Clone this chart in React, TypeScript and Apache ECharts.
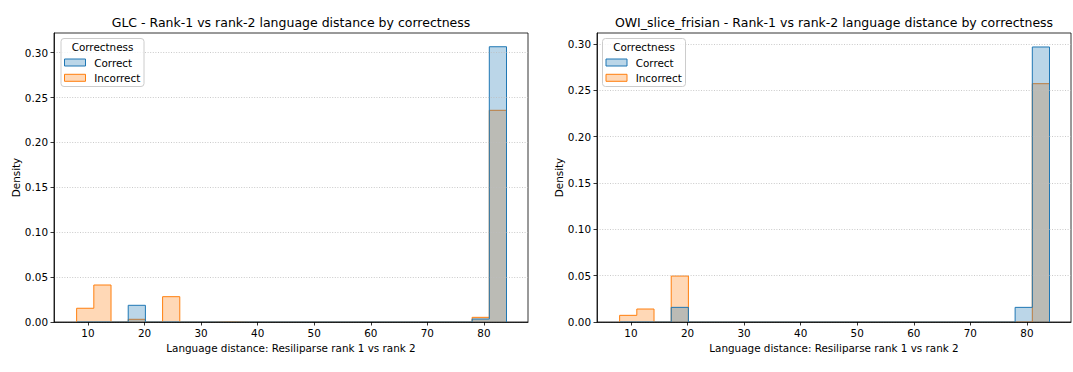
import React, { useEffect, useRef } from "react";
import * as echarts from "echarts";

// Histogram bin edges (25 bins) on "Language distance"
const binEdges = [
  8, 11.04, 14.08, 17.12, 20.16, 23.2, 26.24, 29.28, 32.32, 35.36, 38.4, 41.44, 44.48,
  47.52, 50.56, 53.6, 56.64, 59.68, 62.72, 65.76, 68.8, 71.84, 74.88, 77.92, 80.96, 84,
];
const xTickValues = [10, 20, 30, 40, 50, 60, 70, 80];
const yTickValues = [0, 0.05, 0.1, 0.15, 0.2, 0.25, 0.3];

// Density per bin, GLC panel
const glcCorrect = [
  0, 0, 0, 0.0186, 0, 0, 0, 0, 0, 0, 0, 0, 0, 0, 0, 0, 0, 0, 0, 0, 0, 0, 0, 0.0033, 0.3066,
];
const glcIncorrect = [
  0.0153, 0.0412, 0, 0.003, 0, 0.0282, 0, 0, 0.0005, 0, 0, 0, 0, 0, 0, 0, 0, 0, 0, 0, 0, 0, 0,
  0.0052, 0.2358,
];
// Density per bin, OWI_slice_frisian panel
const owiCorrect = [
  0, 0, 0, 0.0158, 0, 0, 0, 0, 0, 0, 0, 0, 0, 0, 0, 0, 0, 0, 0, 0, 0, 0, 0, 0.0158, 0.2968,
];
const owiIncorrect = [
  0.0072, 0.014, 0, 0.0496, 0, 0, 0, 0, 0, 0, 0, 0, 0, 0, 0, 0, 0, 0, 0, 0, 0, 0, 0, 0, 0.2572,
];

const titles = [
  "GLC - Rank-1 vs rank-2 language distance by correctness",
  "OWI_slice_frisian - Rank-1 vs rank-2 language distance by correctness",
];
const xLabel = "Language distance: Resiliparse rank 1 vs rank 2";
const yLabel = "Density";
const legendTitle = "Correctness";
const hueLabels = ["Correct", "Incorrect"];

const BLUE = "#1f77b4";
const ORANGE = "#ff7f0e";
const BLUE_FILL = "rgba(31,119,180,0.3)";
const ORANGE_FILL = "rgba(255,127,14,0.3)";
const FONT = "DejaVu Sans";

function stepPoints(vals: number[]) {
  const pts: number[][] = [[binEdges[0], 0]];
  vals.forEach((v, i) => {
    pts.push([binEdges[i], v]);
    pts.push([binEdges[i + 1], v]);
  });
  pts.push([binEdges[binEdges.length - 1], 0]);
  return pts;
}

export default function App() {
  const ref = useRef<HTMLDivElement>(null);
  useEffect(() => {
    if (!ref.current) return;
    const chart = echarts.init(ref.current, undefined, { renderer: "svg" });

    const grids = [
      { left: 54, right: 1073 - 528, top: 33, bottom: 50 },
      { left: 597, right: 2, top: 33, bottom: 50 },
    ];
    const yMax = [0.3219, 0.3119];
    const panels = [
      [glcCorrect, glcIncorrect],
      [owiCorrect, owiIncorrect],
    ];

    const xAxes = grids.map((_, i) => ({
      gridIndex: i,
      type: "value",
      min: 4,
      max: 87.8,
      z: 5,
      axisLine: { show: true, lineStyle: { color: "#000", width: 0.8 } },
      splitLine: { show: false },
      axisTick: { show: true, customValues: xTickValues, length: 3.5, lineStyle: { color: "#000", width: 0.8 } },
      axisLabel: { customValues: xTickValues, fontSize: 10.4, color: "#000", margin: 6, fontFamily: FONT },
      name: xLabel,
      nameLocation: "middle",
      nameGap: 20,
      nameTextStyle: { fontSize: 10.4, color: "#000", fontFamily: FONT },
    }));
    const yAxes = grids.map((_, i) => ({
      gridIndex: i,
      type: "value",
      min: 0,
      max: yMax[i],
      interval: 0.05,
      z: 5,
      axisLine: { show: true, lineStyle: { color: "#000", width: 0.8 } },
      splitLine: { show: true, lineStyle: { type: [1, 1.6], color: "#bdbdbd", width: 0.8 } },
      axisTick: { show: true, customValues: yTickValues, length: 3.5, lineStyle: { color: "#000", width: 0.8 } },
      axisLabel: {
        customValues: yTickValues,
        fontSize: 10.4,
        color: "#000",
        margin: 6,
        fontFamily: FONT,
        formatter: (v: number) => v.toFixed(2),
      },
      name: yLabel,
      nameLocation: "middle",
      nameGap: 33,
      nameTextStyle: { fontSize: 10.4, color: "#000", fontFamily: FONT },
    }));

    const series: any[] = [];
    panels.forEach((p, i) => {
      // Incorrect drawn first, Correct on top (seaborn layer order)
      series.push({
        name: hueLabels[1],
        type: "line",
        xAxisIndex: i,
        yAxisIndex: i,
        data: stepPoints(p[1]),
        showSymbol: false,
        symbol: "none",
        z: 2,
        lineStyle: { color: ORANGE, width: 1 },
        itemStyle: { color: ORANGE },
        areaStyle: { color: ORANGE_FILL, opacity: 1 },
      });
      series.push({
        name: hueLabels[0],
        type: "line",
        xAxisIndex: i,
        yAxisIndex: i,
        data: stepPoints(p[0]),
        showSymbol: false,
        symbol: "none",
        z: 3,
        lineStyle: { color: BLUE, width: 1 },
        itemStyle: { color: BLUE },
        areaStyle: { color: BLUE_FILL, opacity: 1 },
      });
    });

    const graphics: any[] = [];
    const titleX = [291, 834];
    titleX.forEach((x, i) => {
      graphics.push({
        type: "text",
        x,
        y: 22,
        style: {
          text: titles[i],
          fontSize: 12.5,
          fontFamily: FONT,
          fill: "#000",
          align: "center",
          verticalAlign: "middle",
        },
      });
    });
    const legendX = [61, 602.5];
    legendX.forEach((lx) => {
      const ly = 38.5;
      graphics.push({
        type: "rect",
        shape: { x: lx, y: ly, width: 83, height: 48, r: 3 },
        style: { fill: "rgba(255,255,255,0.8)", stroke: "#cccccc", lineWidth: 1 },
        z: 20,
      });
      graphics.push({
        type: "text",
        x: lx + 41.5,
        y: ly + 8.5,
        z: 21,
        style: { text: legendTitle, fontSize: 10.4, fontFamily: FONT, fill: "#000", align: "center", verticalAlign: "middle" },
      });
      const rows = [
        { label: hueLabels[0], fill: BLUE_FILL, stroke: BLUE, cy: ly + 24 },
        { label: hueLabels[1], fill: ORANGE_FILL, stroke: ORANGE, cy: ly + 39.3 },
      ];
      rows.forEach((r) => {
        graphics.push({
          type: "rect",
          shape: { x: lx + 3.5, y: r.cy - 3.5, width: 21, height: 7 },
          style: { fill: r.fill, stroke: r.stroke, lineWidth: 1 },
          z: 21,
        });
        graphics.push({
          type: "text",
          x: lx + 33.2,
          y: r.cy,
          z: 21,
          style: { text: r.label, fontSize: 10.4, fontFamily: FONT, fill: "#000", align: "left", verticalAlign: "middle" },
        });
      });
    });

    chart.setOption({
      animation: false,
      backgroundColor: "#fff",
      textStyle: { fontFamily: FONT },
      grid: grids.map((g) => ({ ...g, show: true, borderColor: "#000", borderWidth: 0.8, backgroundColor: "transparent" })),
      xAxis: xAxes,
      yAxis: yAxes,
      series,
      graphic: { elements: graphics },
    });
    return () => chart.dispose();
  }, []);
  return <div ref={ref} style={{ position: "absolute", left: 0, top: 0, width: 1073, height: 372 }} />;
}
